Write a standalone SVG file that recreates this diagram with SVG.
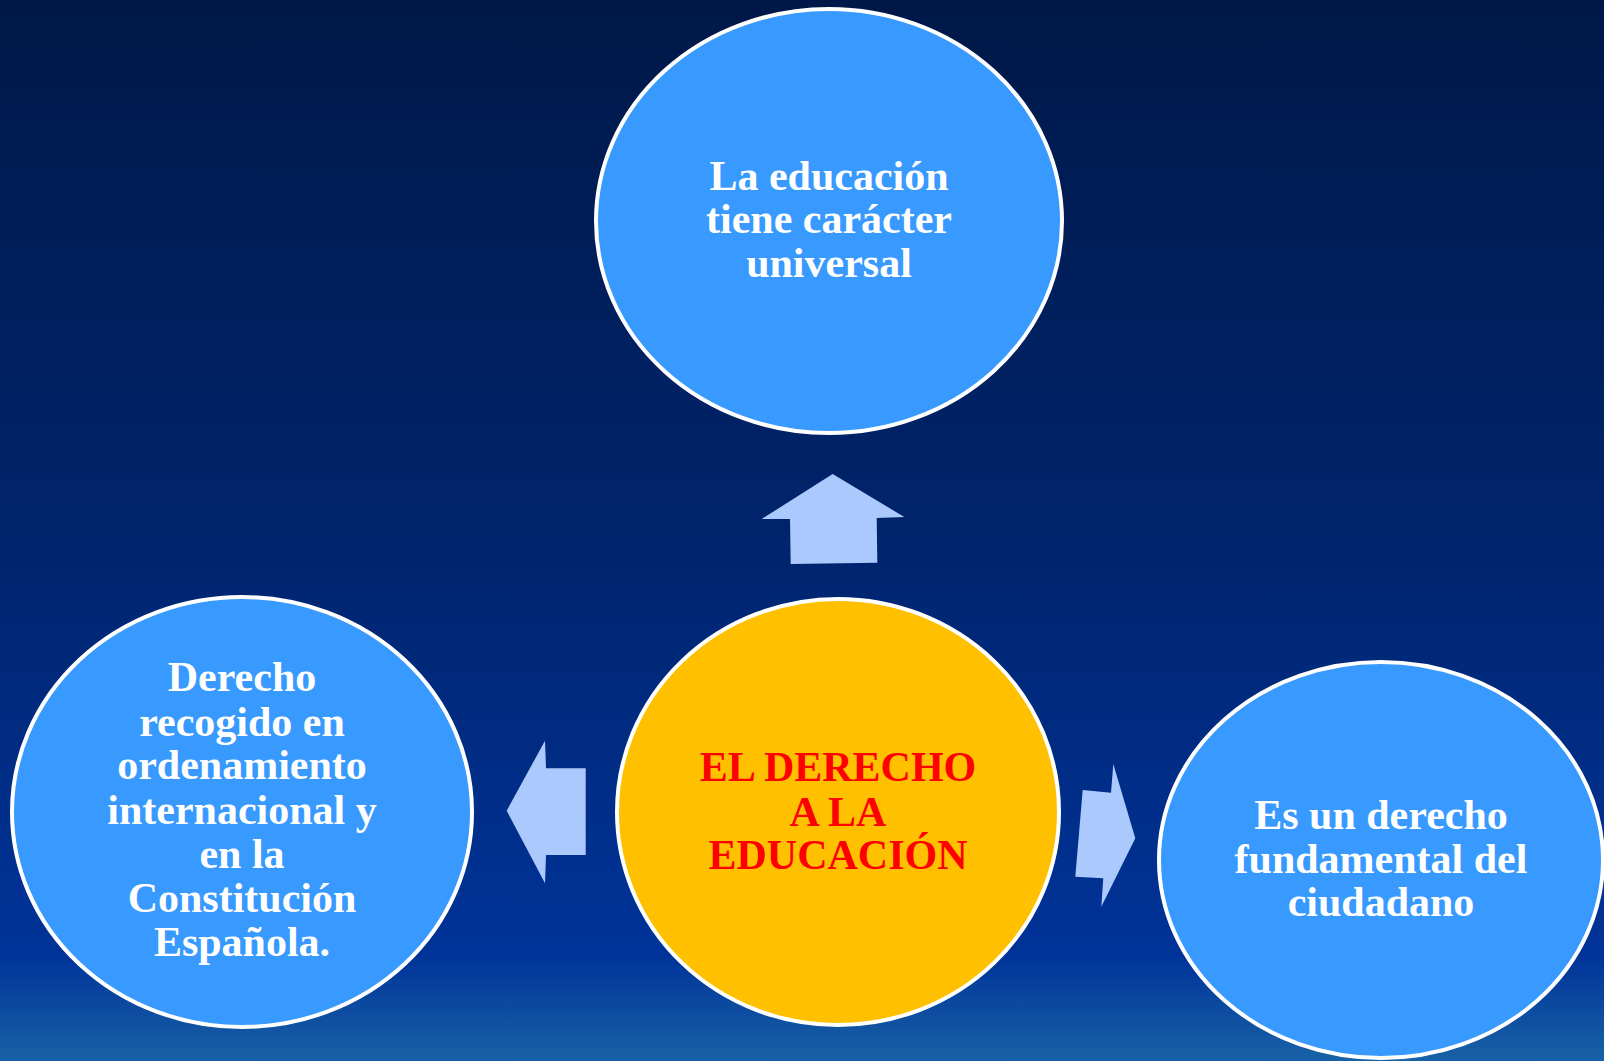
<svg xmlns="http://www.w3.org/2000/svg" width="1604" height="1061" viewBox="0 0 1604 1061">
<defs>
<linearGradient id="bg" x1="0" y1="0" x2="0" y2="1">
<stop offset="0" stop-color="#001848"/>
<stop offset="0.5" stop-color="#00246c"/>
<stop offset="0.9" stop-color="#003399"/>
<stop offset="1" stop-color="#1862a6"/>
</linearGradient>
<style>
.node ellipse{stroke:#ffffff;stroke-width:4}
.blue{fill:#3899fe}
.gold{fill:#ffc000}
.t{font-family:"Liberation Serif","Times New Roman",serif;font-weight:bold;font-size:42px;text-anchor:middle}
.w{fill:#ffffff}
.r{fill:#ff0000}
.arrow{fill:#abc9fc;stroke:none}
</style>
</defs>
<rect x="0" y="0" width="1604" height="1061" fill="url(#bg)"/>
<g id="connectors">
<polygon class="arrow" points="832.7,474 904.3,517 876.7,518 877.3,562.7 790.7,564 790,519 761.7,519"/>
<polygon class="arrow" points="506.7,810.7 545,740.7 546,768.3 585.7,768.3 585.7,855 546,855 545,883.3"/>
<polygon class="arrow" points="1113.3,764 1135.3,838.3 1101.3,906.7 1103.3,878.3 1075.3,876.7 1082.7,790 1111,792.7"/>
</g>
<g id="node-top" class="node">
<ellipse class="blue" cx="829" cy="221" rx="233" ry="212"/>
<text class="t w" x="829" y="190">La educación</text>
<text class="t w" x="829" y="233">tiene carácter</text>
<text class="t w" x="829" y="277">universal</text>
</g>
<g id="node-left" class="node">
<ellipse class="blue" cx="242" cy="812" rx="230" ry="215"/>
<text class="t w" x="242" y="691">Derecho</text>
<text class="t w" x="242" y="736">recogido en</text>
<text class="t w" x="242" y="779">ordenamiento</text>
<text class="t w" x="242" y="824">internacional y</text>
<text class="t w" x="242" y="868">en la</text>
<text class="t w" x="242" y="912">Constitución</text>
<text class="t w" x="242" y="956">Española.</text>
</g>
<g id="node-center" class="node">
<ellipse class="gold" cx="838" cy="812" rx="221" ry="213"/>
<text class="t r" x="838" y="781">EL DERECHO</text>
<text class="t r" x="838" y="826">A LA</text>
<text class="t r" x="838" y="869">EDUCACIÓN</text>
</g>
<g id="node-right" class="node">
<ellipse class="blue" cx="1381" cy="860" rx="222" ry="198"/>
<text class="t w" x="1381" y="829">Es un derecho</text>
<text class="t w" x="1381" y="873">fundamental del</text>
<text class="t w" x="1381" y="916">ciudadano</text>
</g>
</svg>
